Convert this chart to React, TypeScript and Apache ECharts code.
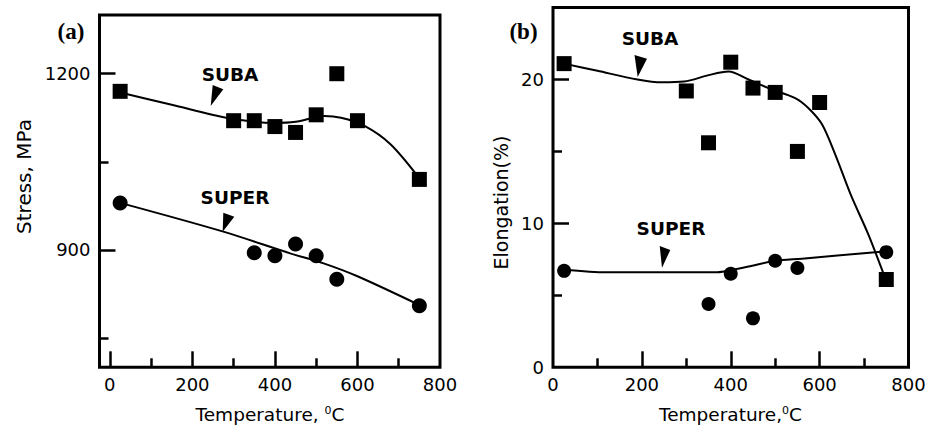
import React, { useEffect, useRef } from "react";
import * as echarts from "echarts";

// ---------- data: panel (a) stress ----------
const subaTempA = [25, 300, 350, 400, 450, 500, 550, 600, 750];
const subaStress = [1170, 1120, 1120, 1110, 1100, 1130, 1200, 1120, 1020];
const superTempA = [25, 350, 400, 450, 500, 550, 750];
const superStress = [980, 895, 890, 910, 890, 850, 805];
// fitted curves
const subaFitTempA = [25, 150, 290, 400, 450, 520, 560, 615, 680, 750];
const subaFitStress = [1168, 1147, 1124, 1116, 1118, 1128, 1125, 1112, 1080, 1022];
const superFitTempA = [25, 275, 437, 518, 600, 750];
const superFitStress = [980, 931, 894, 877, 855, 806];

// ---------- data: panel (b) elongation ----------
const subaTempB = [25, 300, 350, 400, 450, 500, 550, 600, 750];
const subaElong = [21.1, 19.2, 15.6, 21.2, 19.4, 19.1, 15.0, 18.4, 6.1];
const superTempB = [25, 350, 400, 450, 500, 550, 750];
const superElong = [6.7, 4.4, 6.5, 3.4, 7.4, 6.9, 8.0];
const subaFitTempB = [25, 100, 190, 245, 295, 350, 395, 440, 485, 545, 575, 605, 635, 670, 710, 745];
const subaFitElong = [21.1, 20.6, 20.0, 19.8, 19.85, 20.3, 20.55, 20.0, 19.4, 18.7, 18.0, 16.9, 14.8, 12.0, 9.2, 6.4];
const superFitTempB = [25, 120, 370, 400, 440, 500, 560, 745];
const superFitElong = [6.8, 6.6, 6.6, 6.75, 7.0, 7.4, 7.55, 8.05];

// ---------- ticks ----------
const xLabelsA = [0, 200, 400, 600, 800];
const xMajorA = [0, 200, 400, 600];
const xMinorA = [100, 300, 500, 700];
const yLabelsA = [900, 1200];
const yMajorA = [900, 1200];
const yMinorA = [750, 1050];
const xLabelsB = [0, 200, 400, 600, 800];
const xMajorB = [200, 400, 600];
const xMinorB = [100, 300, 500, 700];
const yLabelsB = [0, 10, 20];
const yMajorB = [10, 20];
const yMinorB = [5, 15];

const zip = (a: number[], b: number[]) => a.map((v, i) => [v, b[i]]);

const FONT = "DejaVu Sans";
const tickStyle = { color: "#000", width: 2.5 };
const labelStyle = { color: "#000", fontFamily: FONT, fontSize: 18 };

function axisPair(
  kind: "x" | "y",
  gridIndex: number,
  min: number,
  max: number,
  labels: number[],
  major: number[],
  minor: number[]
) {
  const position = kind === "x" ? "bottom" : "left";
  return [
    {
      type: "value",
      gridIndex,
      min,
      max,
      position,
      offset: 0,
      axisLine: { show: false, onZero: false },
      splitLine: { show: false },
      axisTick: { show: true, inside: true, length: 16, lineStyle: tickStyle, customValues: major },
      axisLabel: {
        show: true,
        margin: kind === "x" ? 8 : 9,
        customValues: labels,
        formatter: (v: number) => String(v),
        ...labelStyle,
      },
    },
    {
      type: "value",
      gridIndex,
      min,
      max,
      position,
      offset: 0,
      axisLine: { show: false, onZero: false },
      splitLine: { show: false },
      axisTick: { show: true, inside: true, length: 9, lineStyle: tickStyle, customValues: minor },
      axisLabel: { show: false },
    },
  ];
}

function scatter(x: number, y: number, data: number[][], symbol: string, size: number) {
  return {
    type: "scatter",
    xAxisIndex: x,
    yAxisIndex: y,
    symbol,
    symbolSize: size,
    itemStyle: { color: "#000", opacity: 1 },
    z: 5,
    data,
  };
}

function fit(x: number, y: number, data: number[][]) {
  return {
    type: "line",
    xAxisIndex: x,
    yAxisIndex: y,
    smooth: 0.3,
    showSymbol: false,
    symbol: "none",
    lineStyle: { color: "#000", width: 2 },
    z: 3,
    data,
  };
}

const supRich = {
  sup: { fontSize: 11, fontFamily: FONT, verticalAlign: "top", fill: "#000" },
};

function text(x: number, y: number, t: string, extra: any = {}) {
  return {
    type: "text",
    x,
    y,
    ...extra.el,
    style: {
      text: t,
      fill: "#000",
      align: "center",
      verticalAlign: "middle",
      fontFamily: FONT,
      fontSize: 18,
      ...extra.style,
    },
  };
}

function tri(points: number[][]) {
  return { type: "polygon", shape: { points }, style: { fill: "#000" } };
}

export default function App() {
  const ref = useRef<HTMLDivElement>(null);
  useEffect(() => {
    const chart = echarts.init(ref.current!, null, { renderer: "svg" });
    const option: any = {
      animation: false,
      backgroundColor: "#fff",
      grid: [
        { left: 99.5, top: 15, width: 340.5, height: 352.3, show: true, borderColor: "#000", borderWidth: 3 },
        { left: 553, top: 7.5, width: 355.5, height: 359.8, show: true, borderColor: "#000", borderWidth: 3 },
      ],
      xAxis: [
        ...axisPair("x", 0, -25, 800, xLabelsA, xMajorA, xMinorA),
        ...axisPair("x", 1, 0, 800, xLabelsB, xMajorB, xMinorB),
      ],
      yAxis: [
        ...axisPair("y", 0, 700, 1300, yLabelsA, yMajorA, yMinorA),
        ...axisPair("y", 1, 0, 25, yLabelsB, yMajorB, yMinorB),
      ],
      series: [
        fit(0, 0, zip(subaFitTempA, subaFitStress)),
        fit(0, 0, zip(superFitTempA, superFitStress)),
        scatter(0, 0, zip(subaTempA, subaStress), "rect", 15),
        scatter(0, 0, zip(superTempA, superStress), "circle", 15),
        fit(2, 2, zip(subaFitTempB, subaFitElong)),
        fit(2, 2, zip(superFitTempB, superFitElong)),
        scatter(2, 2, zip(subaTempB, subaElong), "rect", 15),
        scatter(2, 2, zip(superTempB, superElong), "circle", 14),
      ],
      graphic: [
        text(71, 31, "(a)", { style: { fontFamily: "Liberation Serif", fontWeight: "bold", fontSize: 23 } }),
        text(523.5, 31, "(b)", { style: { fontFamily: "Liberation Serif", fontWeight: "bold", fontSize: 23 } }),
        text(230, 74, "SUBA", { style: { fontWeight: "bold", fontSize: 18.5 } }),
        text(235, 197.5, "SUPER", { style: { fontWeight: "bold", fontSize: 18.5 } }),
        text(650, 38.3, "SUBA", { style: { fontWeight: "bold", fontSize: 18.5 } }),
        text(671, 228.8, "SUPER", { style: { fontWeight: "bold", fontSize: 18.5 } }),
        tri([[212.7, 85], [223.3, 89.3], [210.7, 106]]),
        tri([[223.3, 212.7], [234.3, 216.7], [222.7, 231.7]]),
        tri([[634.5, 55], [647, 58.8], [637.7, 77]]),
        tri([[659.7, 246], [670.3, 250], [662, 267.7]]),
        text(23.5, 176.5, "Stress, MPa", { el: { rotation: Math.PI / 2 }, style: { fontSize: 20 } }),
        text(500.5, 202.5, "Elongation(%)", { el: { rotation: Math.PI / 2 }, style: { fontSize: 19 } }),
        text(270, 414, "Temperature, {sup|0}C", { style: { fontSize: 18.5, rich: supRich } }),
        text(730.5, 414, "Temperature,{sup|0}C", { style: { fontSize: 18.5, rich: supRich } }),
      ],
    };
    chart.setOption(option);
    return () => chart.dispose();
  }, []);
  return (
    <div
      ref={ref}
      style={{ position: "fixed", left: 0, top: 0, width: 934, height: 427, background: "#fff" }}
    />
  );
}
